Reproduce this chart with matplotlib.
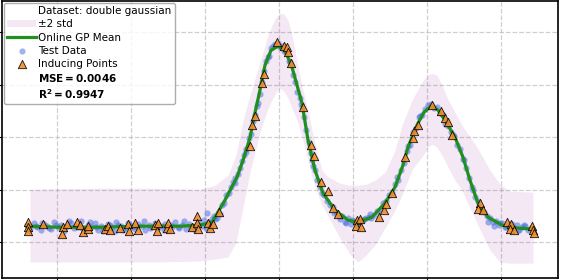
import matplotlib
matplotlib.use('Agg')
import matplotlib.pyplot as plt

# Curva media do GP online
mean_x = [-3.41, -2.96, -2.42, -1.88, -1.34, -1.07, -0.905, -0.73, -0.567, -0.486, -0.39,
          -0.338, -0.257, -0.189, -0.108, -0.014, 0.081, 0.176, 0.311, 0.392, 0.486, 0.595,
          0.757, 0.932, 1.068, 1.257, 1.432, 1.568, 1.676, 1.743, 1.865, 1.959, 2.054, 2.149,
          2.243, 2.378, 2.486, 2.581, 2.689, 2.824, 3.014, 3.23, 3.432]
mean_y = [0.076, 0.071, 0.071, 0.076, 0.076, 0.081, 0.095, 0.2, 0.31, 0.39, 0.5,
          0.595, 0.724, 0.843, 0.914, 0.933, 0.914, 0.833, 0.662, 0.486, 0.343, 0.233,
          0.152, 0.105, 0.095, 0.119, 0.186, 0.262, 0.367, 0.452, 0.557, 0.619, 0.648, 0.629,
          0.581, 0.5, 0.405, 0.295, 0.186, 0.119, 0.081, 0.067, 0.062]

# Faixa de +-2 desvios
band_x = [-3.365, -2.419, -1.743, -1.068, -0.865, -0.689, -0.581, -0.486, -0.392, -0.257,
          -0.149, -0.095, -0.041, 0.014, 0.068, 0.122, 0.176, 0.243, 0.324, 0.392,
          0.459, 0.527, 0.581, 0.662, 0.824, 0.959, 1.068, 1.176, 1.297, 1.432,
          1.568, 1.662, 1.797, 1.946, 2.014, 2.068, 2.135, 2.203, 2.270, 2.378,
          2.473, 2.676, 2.851, 2.986, 3.122, 3.432]
band_hi = [0.252, 0.257, 0.257, 0.252, 0.271, 0.319, 0.414, 0.581, 0.700, 0.857,
           0.986, 1.033, 1.071, 1.090, 1.086, 1.057, 0.986, 0.857, 0.724, 0.629,
           0.510, 0.414, 0.343, 0.310, 0.281, 0.271, 0.271, 0.276, 0.295, 0.333,
           0.438, 0.557, 0.676, 0.771, 0.795, 0.805, 0.795, 0.748, 0.690, 0.619,
           0.557, 0.452, 0.343, 0.276, 0.243, 0.238]
band_lo = [-0.095, -0.095, -0.095, -0.090, -0.081, -0.071, 0.0, 0.167, 0.333, 0.524,
           0.638, 0.676, 0.714, 0.733, 0.719, 0.686, 0.638, 0.581, 0.486, 0.390,
           0.295, 0.224, 0.176, 0.124, 0.019, -0.057, -0.095, -0.062, -0.014, 0.067,
           0.152, 0.224, 0.343, 0.414, 0.452, 0.467, 0.452, 0.414, 0.367, 0.295,
           0.248, 0.090, -0.038, -0.095, -0.100, -0.100]

# Dados de teste
test_x = [-3.40, -3.36, -3.31, -3.27, -3.22, -3.18, -3.13, -3.08, -3.04, -2.99, -2.95, -2.90,
          -2.86, -2.81, -2.77, -2.72, -2.67, -2.63, -2.58, -2.54, -2.49, -2.45, -2.40, -2.36,
          -2.31, -2.26, -2.22, -2.17, -2.13, -2.08, -2.04, -1.99, -1.95, -1.90, -1.85, -1.81,
          -1.76, -1.72, -1.67, -1.63, -1.58, -1.54, -1.49, -1.44, -1.40, -1.35, -1.31, -1.26,
          -1.22, -1.17, -1.13, -1.08, -1.04, -0.99, -0.95, -0.90, -0.86,
          -3.38, -3.29, -3.20, -3.11, -3.02, -2.93, -2.84, -2.75, -2.66, -2.56, -2.47, -2.38,
          -2.29, -2.20, -2.11, -2.01, -1.92, -1.83, -1.74, -1.65, -1.56, -1.46, -1.37, -1.28,
          -1.19, -1.10, -1.01, -0.92, -0.97, -0.88,
          -0.84, -0.80, -0.77, -0.74, -0.71, -0.68, -0.65, -0.62, -0.59, -0.56, -0.53, -0.50,
          -0.47, -0.44, -0.41, -0.38, -0.35, -0.32, -0.29, -0.26, -0.23, -0.20, -0.17, -0.14,
          -0.11, -0.08, -0.05, -0.02, 0.01, 0.04, 0.07, 0.10, 0.13, 0.16, 0.19, 0.22, 0.25,
          0.28, 0.31, 0.34, 0.37, 0.40, 0.43, 0.46, 0.49, 0.52, 0.55, 0.58, 0.61, 0.65, 0.69,
          0.73, 0.77, 0.81, 0.85, 0.89, 0.93, 0.97, 1.01, 1.05, 1.09, 1.13, 1.17, 1.21, 1.25,
          1.29, 1.33, 1.37, 1.41, 1.45, 1.49, 1.53, 1.57, 1.61, 1.65, 1.69, 1.73, 1.77, 1.81,
          1.85, 1.89, 1.93, 1.97, 2.01, 2.05, 2.09, 2.13, 2.17, 2.21, 2.25, 2.29, 2.33, 2.37,
          2.41, 2.45, 2.49, 2.53, 2.57, 2.61, 2.65, 2.69, 2.73, 2.77, 2.81, 2.85, 2.89, 2.93,
          2.97, 3.01, 3.05, 3.09, 3.13, 3.17, 3.21, 3.25, 3.29, 3.33, 3.37, 3.41,
          0.75, 0.83, 0.91, 0.99, 1.07, 1.15, 1.23, 2.83, 2.91, 2.99, 3.07, 3.15, 3.23, 3.31,
          -0.60, -0.45, -0.30, -0.15, 0.15, 0.30, 0.45, 1.60, 1.75, 1.90, 2.20, 2.35, 2.50,
          2.62]
test_y = [0.080, 0.065, 0.090, 0.072, 0.058, 0.085, 0.076, 0.062, 0.095, 0.070, 0.082, 0.055,
          0.078, 0.090, 0.066, 0.074, 0.100, 0.060, 0.081, 0.071, 0.092, 0.058, 0.077, 0.068,
          0.088, 0.073, 0.054, 0.084, 0.079, 0.066, 0.093, 0.071, 0.062, 0.087, 0.075, 0.058,
          0.082, 0.070, 0.091, 0.065, 0.078, 0.086, 0.061, 0.074, 0.095, 0.069, 0.080, 0.063,
          0.088, 0.076, 0.060, 0.090, 0.079, 0.067, 0.098, 0.110, 0.108,
          0.060, 0.076, 0.093, 0.068, 0.080, 0.064, 0.101, 0.079, 0.066, 0.094, 0.070, 0.055,
          0.084, 0.097, 0.060, 0.081, 0.072, 0.099, 0.066, 0.088, 0.057, 0.083, 0.072, 0.100,
          0.067, 0.082, 0.105, 0.075, 0.138, 0.125,
          0.115, 0.135, 0.175, 0.185, 0.225, 0.235, 0.265, 0.285, 0.305, 0.325, 0.355, 0.385,
          0.415, 0.445, 0.495, 0.515, 0.575, 0.605, 0.665, 0.705, 0.765, 0.815, 0.865, 0.885,
          0.925, 0.935, 0.945, 0.950, 0.930, 0.935, 0.910, 0.905, 0.865, 0.845, 0.795, 0.765,
          0.715, 0.685, 0.645, 0.595, 0.535, 0.475, 0.425, 0.365, 0.345, 0.295, 0.265, 0.235,
          0.225, 0.195, 0.175, 0.165, 0.145, 0.125, 0.125, 0.095, 0.115, 0.085, 0.100, 0.080,
          0.100, 0.105, 0.115, 0.120, 0.115, 0.130, 0.150, 0.155, 0.185, 0.195, 0.225, 0.235,
          0.275, 0.295, 0.345, 0.375, 0.435, 0.465, 0.525, 0.545, 0.595, 0.605, 0.635, 0.655,
          0.660, 0.640, 0.645, 0.615, 0.605, 0.565, 0.555, 0.525, 0.505, 0.465, 0.445, 0.395,
          0.355, 0.305, 0.265, 0.215, 0.195, 0.155, 0.145, 0.125, 0.115, 0.095, 0.100, 0.080,
          0.090, 0.070, 0.085, 0.075, 0.065, 0.080, 0.060, 0.070, 0.075, 0.060, 0.065,
          0.140, 0.110, 0.090, 0.105, 0.080, 0.110, 0.135, 0.095, 0.075, 0.090, 0.070, 0.085,
          0.060, 0.080,
          0.280, 0.430, 0.650, 0.880, 0.860, 0.660, 0.390, 0.310, 0.460, 0.600, 0.610, 0.510,
          0.390, 0.250]

# Pontos indutores
ind_x = [-3.392, -3.392, -3.392, -3.189, -2.919, -2.932, -2.865, -2.730, -2.689, -2.649,
         -2.581, -2.581, -2.351, -2.311, -2.284, -2.149, -2.041, -2.027, -1.946, -1.905,
         -1.676, -1.649, -1.635, -1.514, -1.500, -1.473, -1.176, -1.108, -1.108, -1.095,
         -0.959, -0.932, -0.892, -0.811, -0.392, -0.365, -0.324, -0.230, -0.203, -0.027,
         0.068, 0.108, 0.122, 0.162, 0.324, 0.432, 0.473, 0.568, 0.662, 0.730, 0.797,
         1.054, 1.095, 1.041, 1.108, 1.351, 1.419, 1.446, 1.527, 1.703, 1.811, 1.824,
         1.878, 2.068, 2.189, 2.243, 2.284, 2.338, 2.716, 2.689, 2.757, 3.081, 3.135,
         3.122, 3.176, 3.419, 3.432, 3.446]
ind_y = [0.095, 0.071, 0.052, 0.086, 0.071, 0.038, 0.086, 0.095, 0.081, 0.048,
         0.062, 0.076, 0.062, 0.076, 0.057, 0.067, 0.086, 0.052, 0.090, 0.057,
         0.081, 0.052, 0.090, 0.067, 0.090, 0.062, 0.071, 0.124, 0.090, 0.062,
         0.090, 0.067, 0.086, 0.143, 0.457, 0.557, 0.600, 0.757, 0.800, 0.952,
         0.933, 0.929, 0.905, 0.852, 0.643, 0.462, 0.410, 0.286, 0.243, 0.162, 0.133,
         0.105, 0.110, 0.076, 0.071, 0.119, 0.152, 0.181, 0.233, 0.405, 0.495, 0.529,
         0.557, 0.652, 0.624, 0.590, 0.571, 0.510, 0.186, 0.157, 0.152, 0.095, 0.086,
         0.062, 0.057, 0.076, 0.057, 0.043]

mse = 0.0046
r2 = 0.9947

fig = plt.figure(figsize=(5.61, 2.8), dpi=100)
ax = fig.add_axes([0.0036, 0.007, 0.991, 0.989])

ax.plot([], [], ' ', label='Dataset: double gaussian')
ax.fill_between(band_x, band_lo, band_hi, color='purple', alpha=0.09, linewidth=0,
                label='±2 std')
ax.plot(mean_x, mean_y, color='#1f8f1f', linewidth=2.3, label='Online GP Mean')
ax.scatter(test_x, test_y, s=20, color='royalblue', alpha=0.5, linewidths=0,
           label='Test Data')
ax.scatter(ind_x, ind_y, s=36, marker='^', color='#f28c28', edgecolors='black',
           linewidths=0.6, alpha=0.9, label='Inducing Points', zorder=4)
ax.plot([], [], ' ', label=r'$\mathbf{MSE = %.4f}$' % mse)
ax.plot([], [], ' ', label=r'$\mathbf{R^2 = %.4f}$' % r2)

ax.set_xlim(-3.743, 3.77)
ax.set_ylim(-0.171, 1.148)
ax.set_xticks([-3, -2, -1, 0, 1, 2, 3])
ax.set_yticks([0, 0.25, 0.5, 0.75, 1.0])
ax.tick_params(labelbottom=False, labelleft=False, length=3.5)
ax.grid(True, linestyle='--', color='#b0b0b0', alpha=0.6, linewidth=0.9)
ax.set_axisbelow(True)
for s in ax.spines.values():
    s.set_linewidth(1.2)

ax.legend(loc='upper left', fontsize=7.5, borderaxespad=0.2, borderpad=0.3,
          handlelength=2.8, handletextpad=0.2, labelspacing=0.3, scatterpoints=1,
          edgecolor='#999999', fancybox=True)

fig.savefig('out.png', dpi=100)
